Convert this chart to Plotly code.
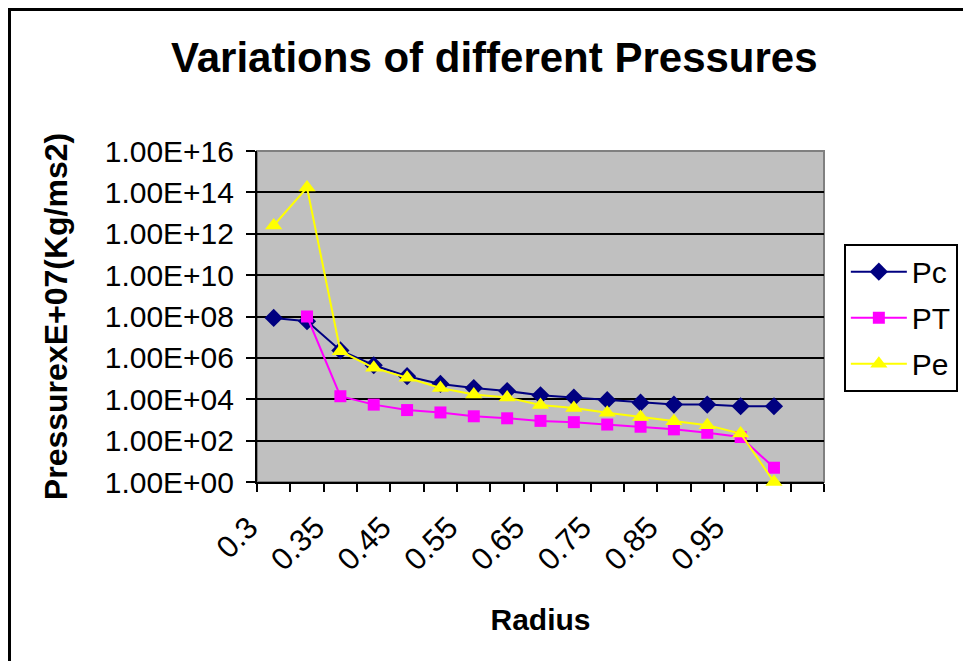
"""Variations of different pressures along the radius (Excel-style log chart)."""

import plotly.graph_objects as go

# ─── Data ─────────────────────────────────────────────────────────────────────

radius = ["0.3", "0.32", "0.35", "0.4", "0.45", "0.5", "0.55", "0.6",
          "0.65", "0.7", "0.75", "0.8", "0.85", "0.9", "0.95", "1"]

pc = [8.5e7, 5.9e7, 2.3e6, 4.4e5, 1.3e5, 5.5e4, 3.5e4, 2.5e4,
      1.55e4, 1.2e4, 9.0e3, 6.8e3, 5.5e3, 5.5e3, 4.6e3, 4.6e3]
pt = [None, 1.0e8, 1.4e4, 5.5e3, 3.0e3, 2.3e3, 1.5e3, 1.2e3,
      9.0e2, 7.8e2, 6.0e2, 4.7e2, 3.5e2, 2.4e2, 1.5e2, 4.9]
pe = [2.5e12, 1.7e14, 2.1e6, 3.3e5, 1.1e5, 3.5e4, 1.7e4, 1.2e4,
      5.3e3, 3.8e3, 2.2e3, 1.4e3, 8.7e2, 5.6e2, 2.2e2, 1.0]

x_labels = ["0.3", "0.35", "0.45", "0.55", "0.65", "0.75", "0.85", "0.95"]
y_ticks = [1e0, 1e2, 1e4, 1e6, 1e8, 1e10, 1e12, 1e14, 1e16]

FONT = "Liberation Sans, Arial, sans-serif"

# category index -> position on the axis (one empty slot is left at the end)
x_idx = list(range(len(radius)))
label_pos = [radius.index(lbl) for lbl in x_labels]

series = [
    ("Pc", pc, "#000080", "diamond", 14),
    ("PT", pt, "#FF00FF", "square", 12),
    ("Pe", pe, "#FFFF00", "triangle-up", 15),
]

fig = go.Figure()
for name, values, color, symbol, size in series:
    fig.add_trace(
        go.Scatter(
            x=x_idx,
            y=values,
            name=name,
            legendgroup=name,
            mode="lines+markers",
            line={"color": color, "width": 2},
            marker={"color": color, "symbol": symbol, "size": size},
            cliponaxis=False,
        )
    )

# outer chart border (Excel chart area), partly cut by the picture edge
fig.add_shape(
    type="rect",
    xref="paper",
    yref="paper",
    x0=-0.4365,
    x1=1.30,
    y0=-0.60,
    y1=1.4275,
    line={"color": "black", "width": 3},
    layer="below",
)

# the page body adds an 8px offset, so the canvas is shrunk by that much
fig.update_layout(
    width=963,
    height=653,
    paper_bgcolor="white",
    plot_bgcolor="#C0C0C0",
    margin={"l": 249, "r": 147, "t": 143, "b": 179},
    font={"family": FONT, "color": "black"},
    title={
        "text": "<b>Variations of different Pressures</b>",
        "font": {"size": 42, "family": FONT},
        "xref": "container",
        "yref": "container",
        "x": 0.505,
        "y": 0.925,
        "xanchor": "center",
        "yanchor": "middle",
    },
    legend={
        "x": 1.035,
        "y": 0.72,
        "xanchor": "left",
        "yanchor": "top",
        "bgcolor": "white",
        "bordercolor": "black",
        "borderwidth": 2,
        "font": {"size": 30, "family": FONT},
        "tracegroupgap": 4,
        "traceorder": "grouped",
        "itemwidth": 56,
    },
    xaxis={
        "range": [-0.5, 16.5],
        "tickvals": label_pos,
        "ticktext": x_labels,
        "tickangle": -45,
        "ticks": "",
        "tickfont": {"size": 31},
        "ticklabelstandoff": 13,
        "ticklabelshift": -25,
        "showgrid": False,
        "zeroline": False,
        "showline": True,
        "linecolor": "black",
        "linewidth": 2,
        "layer": "below traces",
        "minor": {
            "tick0": -0.5,
            "dtick": 1,
            "ticks": "outside",
            "ticklen": 8,
            "tickcolor": "black",
            "tickwidth": 2,
            "showgrid": False,
        },
        "title": {"text": "<b>Radius</b>", "font": {"size": 30}, "standoff": 33},
    },
    yaxis={
        "type": "log",
        "range": [0, 16],
        "tickvals": y_ticks,
        "ticktext": [f"{v:.2E}" for v in y_ticks],
        "ticks": "outside",
        "ticklen": 9,
        "tickwidth": 2,
        "tickcolor": "black",
        "tickfont": {"size": 30},
        "ticklabelstandoff": 6,
        "showgrid": True,
        "gridcolor": "black",
        "gridwidth": 2,
        "zeroline": False,
        "showline": True,
        "linecolor": "black",
        "linewidth": 2,
        "layer": "below traces",
        "title": {"text": "<b>PressurexE+07(Kg/ms2)</b>", "font": {"size": 32}, "standoff": 28},
    },
)

# gray frame on top and right of the plot area
fig.add_shape(
    type="rect",
    xref="paper",
    yref="paper",
    x0=0,
    x1=1,
    y0=0,
    y1=1,
    line={"color": "#808080", "width": 2},
    layer="below",
)

fig.write_html("out.html")
